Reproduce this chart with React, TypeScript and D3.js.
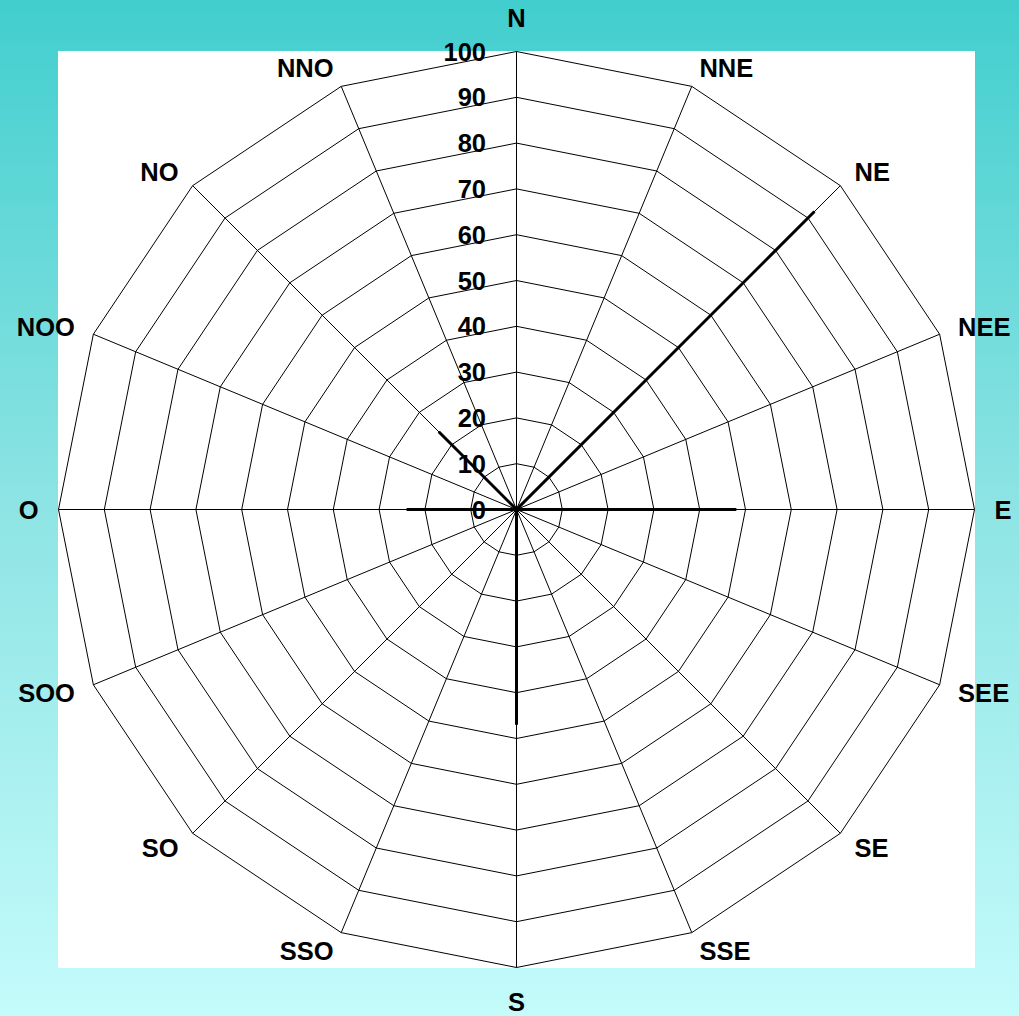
import React from "react";
import * as d3 from "d3";

const directions = ["N", "NNE", "NE", "NEE", "E", "SEE", "SE", "SSE", "S", "SSO", "SO", "SOO", "O", "NOO", "NO", "NNO"];
const windValues = [0, 0, 92, 0, 48, 0, 0, 0, 47, 0, 0, 0, 24, 0, 24, 0];
const tickValues = [0, 10, 20, 30, 40, 50, 60, 70, 80, 90, 100];

const W = 1019;
const H = 1016;
const plot = { x: 58, y: 51, w: 917, h: 917 };
const cx = plot.x + plot.w / 2;
const cy = plot.y + plot.h / 2;
const R = 458;
const FONT = "'Liberation Sans', Arial, Helvetica, sans-serif";

export default function App() {
  const r = d3.scaleLinear().domain([0, 100]).range([0, R]);
  const n = directions.length;
  const angle = (i: number) => (i * 2 * Math.PI) / n;
  const pt = (i: number, v: number): [number, number] => {
    const a = angle(i);
    return [cx + r(v) * Math.sin(a), cy - r(v) * Math.cos(a)];
  };

  const ringLine = d3
    .lineRadial<number>()
    .angle((_, i) => angle(i))
    .radius((v) => r(v))
    .curve(d3.curveLinearClosed);

  const seriesPath = ringLine(windValues) || "";

  return (
    <svg width={W} height={H} style={{ position: "absolute", left: 0, top: 0, display: "block" }}>
      <defs>
        <linearGradient id="bg" x1="0" y1="0" x2="0" y2="1">
          <stop offset="0%" stopColor="#42CECE" />
          <stop offset="50%" stopColor="#8EE4E4" />
          <stop offset="100%" stopColor="#C4FBFB" />
        </linearGradient>
      </defs>
      <rect x={0} y={0} width={W} height={H} fill="url(#bg)" />
      <rect x={plot.x} y={plot.y} width={plot.w} height={plot.h} fill="#ffffff" />
      <g transform={`translate(${cx},${cy})`}>
        {tickValues.slice(1).map((t) => (
          <path
            key={"ring" + t}
            d={ringLine(directions.map(() => t)) || ""}
            fill="none"
            stroke="#000"
            strokeWidth={1}
          />
        ))}
        {directions.map((d, i) => {
          const a = angle(i);
          return (
            <line
              key={"spoke" + d}
              x1={0}
              y1={0}
              x2={r(100) * Math.sin(a)}
              y2={-r(100) * Math.cos(a)}
              stroke="#000"
              strokeWidth={1}
            />
          );
        })}
        <path d={seriesPath} fill="none" stroke="#000" strokeWidth={3} strokeLinejoin="miter" />
      </g>
      {tickValues.map((t) => (
        <text
          key={"tick" + t}
          x={cx - 30.5}
          y={cy - r(t)}
          dy="0.36em"
          textAnchor="end"
          fontFamily={FONT}
          fontWeight="bold"
          fontSize={25.5}
          fill="#000"
        >
          {t}
        </text>
      ))}
      {directions.map((d, i) => {
        const a = angle(i);
        const s = Math.sin(a);
        const c = Math.cos(a);
        const pole = Math.abs(s) < 0.01;
        const dist = R + (pole ? 34 : 20);
        const x = cx + dist * s;
        const y = cy - dist * c;
        const anchor = pole ? "middle" : s > 0 ? "start" : "end";
        return (
          <text
            key={"lab" + d}
            x={x}
            y={y}
            dy="0.36em"
            textAnchor={anchor}
            fontFamily={FONT}
            fontWeight="bold"
            fontSize={25.5}
            fill="#000"
          >
            {d}
          </text>
        );
      })}
    </svg>
  );
}
